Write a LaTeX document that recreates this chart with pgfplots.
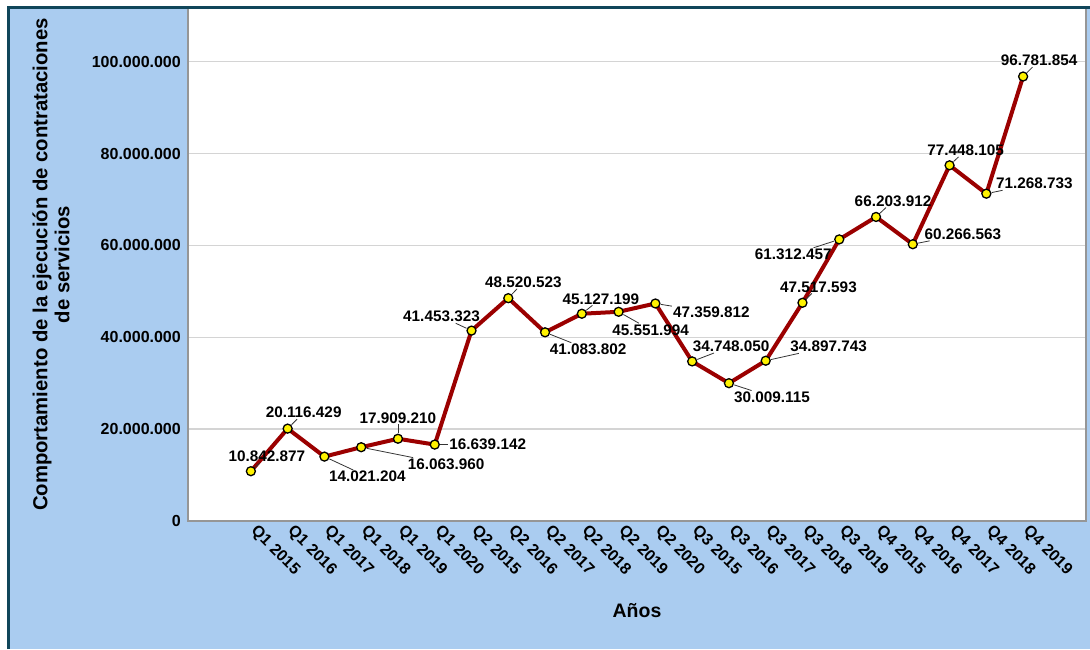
\documentclass[border=0pt]{standalone}
\usepackage{fontspec}
\setmainfont{Liberation Sans}
\usepackage{pgfplots}
\pgfplotsset{compat=1.18}
\definecolor{bgblue}{RGB}{170,204,240}
\definecolor{framec}{RGB}{16,70,90}
\definecolor{linered}{RGB}{155,0,0}
\definecolor{gridc}{RGB}{212,212,212}
\definecolor{axisc}{RGB}{150,150,150}
\newcommand{\dlab}[6]{%
  \node[lbl, xshift=#3pt, yshift=#4pt] (#6) at (axis cs:#1,#2) {#5};
  \draw[leader] (axis cs:#1,#2) -- (#6);
}
\begin{document}
\begin{tikzpicture}[x=1pt,y=1pt,
  lbl/.style={font=\fontsize{15.3}{18}\selectfont\bfseries, inner sep=1pt, text=black},
  leader/.style={draw=black!80, line width=0.8pt, shorten <=5.5pt}]
\useasboundingbox (0,0) rectangle (1090,649);
\fill[white] (0,0) rectangle (1090,649);
\fill[bgblue] (8,0) rectangle (1090,641);
\begin{axis}[
  at={(188pt,128pt)}, anchor=south west,
  width=898pt, height=513pt, scale only axis,
  xmin=-1.71, xmax=22.71, ymin=0, ymax=111.7e6,
  axis background/.style={fill=white},
  axis line style={draw=axisc, line width=1.5pt},
  clip=false,
  xtick={0,...,21},
  xticklabels={Q1 2015,Q1 2016,Q1 2017,Q1 2018,Q1 2019,Q1 2020,Q2 2015,Q2 2016,Q2 2017,Q2 2018,Q2 2019,Q2 2020,Q3 2015,Q3 2016,Q3 2017,Q3 2018,Q3 2019,Q4 2015,Q4 2016,Q4 2017,Q4 2018,Q4 2019},
  ytick={0,20000000,40000000,60000000,80000000,100000000},
  yticklabels={0,20.000.000,40.000.000,60.000.000,80.000.000,100.000.000},
  scaled y ticks=false,
  major tick length=0pt,
  ymajorgrids,
  grid style={draw=gridc, line width=1.5pt},
  tick label style={font=\fontsize{16}{18}\selectfont\bfseries, text=black},
  xticklabel style={rotate=-45, anchor=west, inner sep=0pt, xshift=7.4pt, yshift=-3.9pt},
  yticklabel style={anchor=east, inner sep=0pt, xshift=-7pt},
  xlabel={Años},
  xlabel style={at={(axis description cs:0.5,-0.1754)}, anchor=center, font=\fontsize{19.5}{22}\selectfont\bfseries},
  ylabel={Comportamiento de la ejecución de contrataciones\\de servicios},
  ylabel style={at={(axis description cs:-0.1526,0.5)}, anchor=center, align=center, font=\fontsize{20.3}{22}\selectfont\bfseries},
]
\addplot[linered, line width=4pt, mark=*, mark size=4.5pt,
  mark options={fill=yellow, draw=black, line width=1.3pt, solid}] table {
x y
0 10842877
1 20116429
2 14021204
3 16063960
4 17909210
5 16639142
6 41453323
7 48520523
8 41083802
9 45127199
10 45551994
11 47359812
12 34748050
13 30009115
14 34897743
15 47517593
16 61312457
17 66203912
18 60266563
19 77448105
20 71268733
21 96781854
};
\dlab{0}{10842877}{16}{15}{10.842.877}{l0}
\dlab{1}{20116429}{16}{16}{20.116.429}{l1}
\dlab{2}{14021204}{43}{-20}{14.021.204}{l2}
\dlab{3}{16063960}{85}{-17}{16.063.960}{l3}
\dlab{4}{17909210}{0}{21}{17.909.210}{l4}
\dlab{5}{16639142}{53}{0}{16.639.142}{l5}
\dlab{6}{41453323}{-30}{14}{41.453.323}{l6}
\dlab{7}{48520523}{15}{16}{48.520.523}{l7}
\dlab{8}{41083802}{43}{-17}{41.083.802}{l8}
\dlab{9}{45127199}{19}{15}{45.127.199}{l9}
\dlab{10}{45551994}{32}{-18}{45.551.994}{l10}
\dlab{11}{47359812}{56}{-9}{47.359.812}{l11}
\dlab{12}{34748050}{39}{15}{34.748.050}{l12}
\dlab{13}{30009115}{43}{-14}{30.009.115}{l13}
\dlab{14}{34897743}{63}{14}{34.897.743}{l14}
\dlab{15}{47517593}{16}{16}{47.517.593}{l15}
\dlab{16}{61312457}{-46}{-15}{61.312.457}{l16}
\dlab{17}{66203912}{17}{16}{66.203.912}{l17}
\dlab{18}{60266563}{50}{10}{60.266.563}{l18}
\dlab{19}{77448105}{16}{15}{77.448.105}{l19}
\dlab{20}{71268733}{48}{10}{71.268.733}{l20}
\dlab{21}{96781854}{16}{16}{96.781.854}{l21}
\end{axis}
\draw[framec, line width=3pt] (8,0) -- (8,641.5) -- (1090,641.5);
\end{tikzpicture}
\end{document}
